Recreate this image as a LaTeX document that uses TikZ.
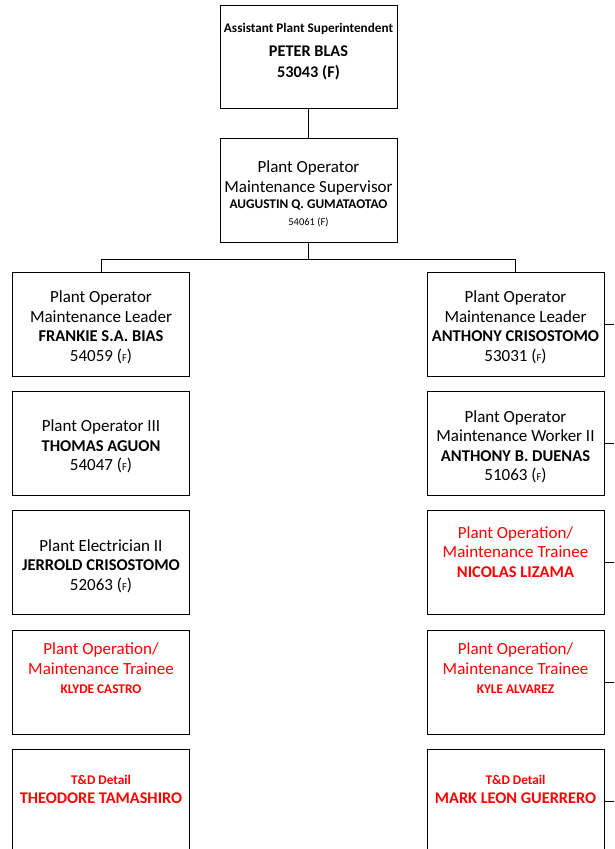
\documentclass[tikz,border=0pt]{standalone}
\usepackage{fontspec}
\setmainfont{Carlito}
\usetikzlibrary{positioning}

\newcommand{\nm}[1]{{\fontsize{16.5}{19.5}\selectfont\bfseries #1}}
\newcommand{\sm}[1]{{\fontsize{10.5}{13}\selectfont #1}}
\newcommand{\smb}[1]{{\fontsize{13.3}{16}\selectfont\bfseries #1}}
\newcommand{\bg}[1]{{\fontsize{16.3}{20}\selectfont\bfseries #1}}
\newcommand{\tp}{\rule{0pt}{18.5pt}}

\begin{document}
\begin{tikzpicture}
          [post/.style={draw, line width=0.9pt, minimum width=177pt, minimum height=104pt,
                        inner sep=1pt, align=center, font=\fontsize{17}{19.5}\selectfont},
           trainee/.style={post, text=red},
           node distance=14.5pt]
          \useasboundingbox (0,0) rectangle (614pt,-849pt);
          \coordinate (rim) at (614pt,0);

          \node (asst) [post, minimum height=103pt] at (308.5pt,-56.5pt)
               {{\fontsize{13.2}{16}\selectfont\bfseries Assistant Plant Superintendent}\\[4pt]
                \bg{PETER BLAS}\\[2pt] \bg{53043 (F)}\\[-8pt] \mbox{}};
          \node (sup) [post, below = 30pt of asst]
               {\tp Plant Operator\\ Maintenance Supervisor\\[-3pt]
                \smb{AUGUSTIN Q. GUMATAOTAO}\\[-2.5pt] \sm{54061 (F)}};

          % left column
          \node (ldr) [post] at (101pt,-324pt)
               {\tp Plant Operator\\ Maintenance Leader\\ \nm{FRANKIE S.A. BIAS}\\ 54059 (\sm{F})};
          \node (opr) [post, below = of ldr]
               {\tp Plant Operator III\\ \nm{THOMAS AGUON}\\ 54047 (\sm{F})};
          \node (elec) [post, below = of opr]
               {\tp Plant Electrician II\\ \nm{JERROLD CRISOSTOMO}\\ 52063 (\sm{F})};
          \node (trn) [trainee, below = of elec]
               {Plant Operation/\\ Maintenance Trainee\\ \smb{KLYDE CASTRO}\\[8pt] \mbox{}};
          \node (det) [trainee, below = of trn]
               {\smb{T\&D Detail}\\ \bg{THEODORE TAMASHIRO}\\[5pt] \mbox{}};

          % right column
          \node (ldrb) [post] at (515.5pt,-324pt)
               {\tp Plant Operator\\ Maintenance Leader\\ \nm{ANTHONY CRISOSTOMO}\\ 53031 (\sm{F})};
          \node (wkr) [post, below = of ldrb]
               {\tp Plant Operator\\ Maintenance Worker II\\ \nm{ANTHONY B. DUENAS}\\ 51063 (\sm{F})};
          \node (trnb) [trainee, below = of wkr]
               {Plant Operation/\\ Maintenance Trainee\\ \nm{NICOLAS LIZAMA}\\[2pt] \mbox{}};
          \node (trnc) [trainee, below = of trnb]
               {Plant Operation/\\ Maintenance Trainee\\ \smb{KYLE ALVAREZ}\\[8pt] \mbox{}};
          \node (detb) [trainee, below = of trnc]
               {\smb{T\&D Detail}\\ \bg{MARK LEON GUERRERO}\\[5pt] \mbox{}};

          \draw[line width=0.9pt] (asst) -- (sup);
          \draw[line width=0.9pt] (sup.south) -- ++(0,-16pt) -| (ldr.north);
          \draw[line width=0.9pt] (sup.south) -- ++(0,-16pt) -| (ldrb.north);

          \draw[line width=0.9pt] (ldrb.east) -- (ldrb.east -| rim);
          \draw[line width=0.9pt] (wkr.east) -- (wkr.east -| rim);
          \draw[line width=0.9pt] (trnb.east) -- (trnb.east -| rim);
          \draw[line width=0.9pt] (trnc.east) -- (trnc.east -| rim);
          \draw[line width=0.9pt] (detb.east) -- (detb.east -| rim);

        \end{tikzpicture}
\end{document}
